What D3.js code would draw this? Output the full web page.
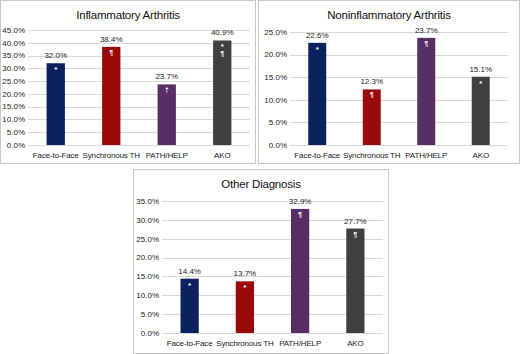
<!DOCTYPE html>
<html>
<head>
<meta charset="utf-8">
<script src="https://cdn.jsdelivr.net/npm/d3@7"></script>
<style>
body { margin: 0; background: #fff; }
svg { font-family: "Liberation Sans", Arial, sans-serif; }
.grid line { stroke: #d9d9d9; stroke-width: 1; }
.ylab { font-size: 8px; fill: #222; }
.xlab { font-size: 8px; fill: #222; letter-spacing: -0.15px; }
.vlab { font-size: 8px; fill: #222; }
.title { font-size: 11.5px; fill: #111; letter-spacing: -0.2px; }
</style>
</head>
<body>
<svg id="chart" width="520" height="354"></svg>
<script>
// categories and series
var categories = ["Face-to-Face", "Synchronous TH", "PATH/HELP", "AKO"];
var colors = ["#0b2160", "#9b0a0a", "#592d66", "#404040"];

var inflammatory = [32.0, 38.4, 23.7, 40.9];
var noninflammatory = [22.6, 12.3, 23.7, 15.1];
var otherDiagnosis = [14.4, 13.7, 32.9, 27.7];

// significance markers drawn inside bars
var inflammatoryMarks = [["*"], ["¶"], ["†"], ["*", "¶"]];
var noninflammatoryMarks = [["*"], ["¶"], ["¶"], ["*"]];
var otherMarks = [["*"], ["*"], ["¶"], ["¶"]];

var inflammatoryTicks = [0, 5, 10, 15, 20, 25, 30, 35, 40, 45];
var noninflammatoryTicks = [0, 5, 10, 15, 20, 25];
var otherTicks = [0, 5, 10, 15, 20, 25, 30, 35];

var svg = d3.select("#chart");

function drawPanel(title, values, marks, ticks, box, plot) {
	var g = svg.append("g");

	g.append("rect")
		.attr("x", box.x + 0.5)
		.attr("y", box.y + 0.5)
		.attr("width", box.w - 1)
		.attr("height", box.h - 1)
		.attr("fill", "#fff")
		.attr("stroke", "#c8c8c8");

	g.append("text")
		.attr("class", "title")
		.attr("x", box.x + box.w / 2)
		.attr("y", box.y + 19)
		.attr("text-anchor", "middle")
		.text(title);

	var x = d3.scaleBand()
		.domain(categories)
		.range([plot.x0, plot.x1])
		.paddingInner(0.67)
		.paddingOuter(0.335);

	var y = d3.scaleLinear()
		.domain([0, d3.max(ticks)])
		.range([plot.y0, plot.y1]);

	// gridlines
	g.append("g")
		.attr("class", "grid")
		.selectAll("line")
		.data(ticks)
		.enter()
		.append("line")
		.attr("x1", plot.x0)
		.attr("x2", plot.x1)
		.attr("y1", d => Math.round(y(d)) + 0.5)
		.attr("y2", d => Math.round(y(d)) + 0.5);

	g.selectAll(".ylab")
		.data(ticks)
		.enter()
		.append("text")
		.attr("class", "ylab")
		.attr("x", plot.x0 - 3)
		.attr("y", d => y(d))
		.attr("dy", "0.35em")
		.attr("text-anchor", "end")
		.text(d => d.toFixed(1) + "%");

	g.selectAll(".bar")
		.data(values)
		.enter()
		.append("rect")
		.attr("class", "bar")
		.attr("x", (d, i) => x(categories[i]))
		.attr("width", x.bandwidth())
		.attr("y", d => y(d))
		.attr("height", d => y(0) - y(d))
		.attr("fill", (d, i) => colors[i]);

	g.selectAll(".vlab")
		.data(values)
		.enter()
		.append("text")
		.attr("class", "vlab")
		.attr("x", (d, i) => x(categories[i]) + x.bandwidth() / 2)
		.attr("y", d => y(d) - 5)
		.attr("text-anchor", "middle")
		.text(d => d.toFixed(1) + "%");

	values.forEach((v, i) => {
		marks[i].forEach((m, j) => {
			g.append("text")
				.attr("x", x(categories[i]) + x.bandwidth() / 2)
				.attr("y", y(v) + (m == "*" ? 9 : 8) + j * 7.5)
				.attr("text-anchor", "middle")
				.attr("font-size", m == "*" ? "8px" : "6.5px")
				.attr("font-weight", "bold")
				.attr("fill", "#fff")
				.text(m);
		});
	});

	g.selectAll(".xlab")
		.data(categories)
		.enter()
		.append("text")
		.attr("class", "xlab")
		.attr("x", d => x(d) + x.bandwidth() / 2)
		.attr("y", plot.y0 + 13)
		.attr("text-anchor", "middle")
		.text(d => d);
}

drawPanel("Inflammatory Arthritis", inflammatory, inflammatoryMarks, inflammatoryTicks,
	{x: 0, y: 0, w: 256, h: 164}, {x0: 28, x1: 250, y0: 145, y1: 30});
drawPanel("Noninflammatory Arthritis", noninflammatory, noninflammatoryMarks, noninflammatoryTicks,
	{x: 258, y: 0, w: 262, h: 164}, {x0: 290, x1: 508, y0: 145, y1: 32});
drawPanel("Other Diagnosis", otherDiagnosis, otherMarks, otherTicks,
	{x: 133, y: 169, w: 256, h: 185}, {x0: 162, x1: 383, y0: 333, y1: 201});
</script>
</body>
</html>
